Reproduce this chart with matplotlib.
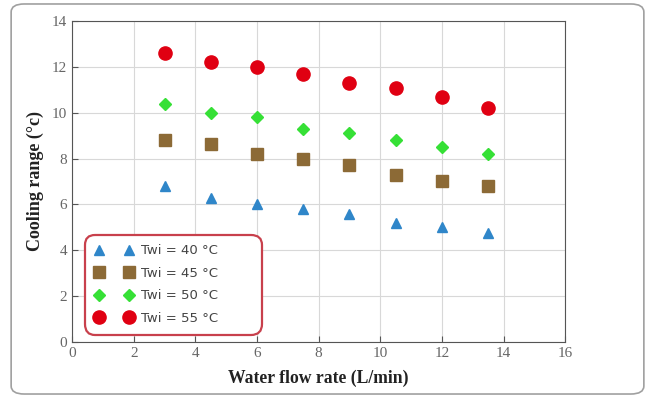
import matplotlib.pyplot as plt
from matplotlib.patches import FancyBboxPatch

# flow rate (L/min)
flow = [3, 4.5, 6, 7.5, 9, 10.5, 12, 13.5]

# cooling range (C) per inlet water temperature
twi_40 = [6.8, 6.3, 6.0, 5.8, 5.6, 5.2, 5.0, 4.75]
twi_45 = [8.8, 8.65, 8.2, 8.0, 7.7, 7.3, 7.0, 6.8]
twi_50 = [10.4, 10.0, 9.8, 9.3, 9.1, 8.8, 8.5, 8.2]
twi_55 = [12.6, 12.2, 12.0, 11.7, 11.3, 11.1, 10.7, 10.2]

labels = ['Twi = 40 °C', 'Twi = 45 °C', 'Twi = 50 °C', 'Twi = 55 °C']

fig = plt.figure(figsize=(6.55, 3.98), dpi=100)
ax = fig.add_axes([0.110, 0.141, 0.753, 0.806])

# rounded frame around the whole figure
frame = FancyBboxPatch((0.017, 0.01), 0.966, 0.98, boxstyle='round,pad=0,rounding_size=0.02',
                       transform=fig.transFigure, fill=False, edgecolor='#a0a0a0', linewidth=1.2)
fig.patches.append(frame)

ax.plot(flow, twi_40, linestyle='none', marker='^', markersize=7, color='#2f86c9', label=labels[0])
ax.plot(flow, twi_45, linestyle='none', marker='s', markersize=9, color='#8c6a36', label=labels[1])
ax.plot(flow, twi_50, linestyle='none', marker='D', markersize=6.5, color='#36e036', label=labels[2])
ax.plot(flow, twi_55, linestyle='none', marker='o', markersize=9.5, color='#e00012', label=labels[3])

ax.set_xlim(0, 16)
ax.set_ylim(0, 14)
ax.set_xticks(range(0, 17, 2))
ax.set_yticks(range(0, 15, 2))
ax.grid(True, color='#d8d8d8', linewidth=0.8)
ax.set_axisbelow(True)
ax.tick_params(direction='in', length=4, colors='#555555', labelsize=11, labelcolor='#666666')
for lab in ax.get_xticklabels() + ax.get_yticklabels():
    lab.set_family('Liberation Serif')
for s in ax.spines.values():
    s.set_color('#555555')

ax.set_xlabel('Water flow rate (L/min)', family='Liberation Serif', fontweight='bold',
              fontsize=12.7, color='#222222', labelpad=7)
ax.set_ylabel('Cooling range (°c)', family='Liberation Serif', fontweight='bold',
              fontsize=13, color='#222222', labelpad=6)

leg = ax.legend(loc='lower left', bbox_to_anchor=(0.026, 0.022, 0.359, 0.33), mode='expand',
                numpoints=2, handlelength=2.9, fontsize=9.5, labelspacing=0.72, borderpad=0.75,
                handletextpad=0.6, fancybox=True, framealpha=1,
                edgecolor='#c8404c', borderaxespad=0)
leg.get_frame().set_linewidth(1.6)
leg.get_frame().set_boxstyle('round,pad=0,rounding_size=0.8')
for t in leg.get_texts():
    t.set_color('#444444')

fig.savefig('out.png', dpi=100)
